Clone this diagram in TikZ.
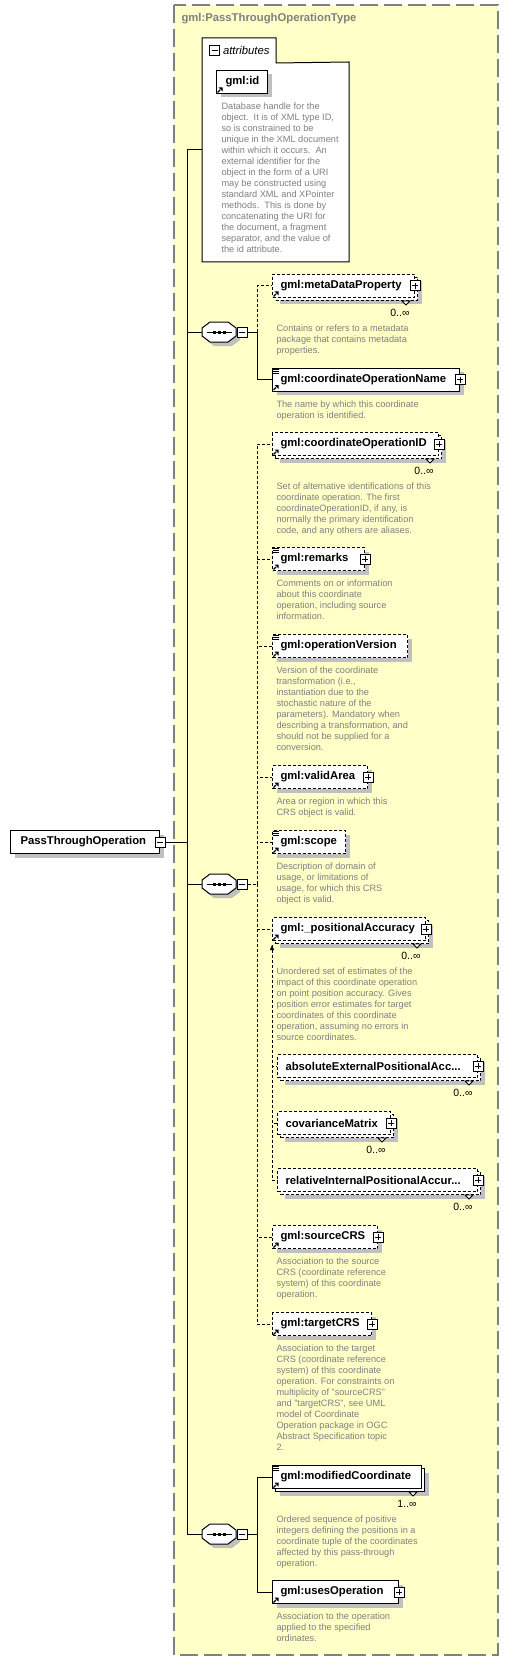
\documentclass[tikz,border=0pt]{standalone}
\usepackage{fontspec}
\setmainfont{Liberation Sans}
\usetikzlibrary{arrows.meta,positioning,shadows,calc}
\definecolor{typeyellow}{RGB}{255,255,200}
\definecolor{framegray}{RGB}{128,128,128}
\definecolor{descgray}{RGB}{128,128,128}
\definecolor{shadowgray}{RGB}{192,192,192}

\begin{document}
\begin{tikzpicture}[
  x=1pt, y=-1pt, line width=1pt,
  elem/.style={rectangle, draw=black, fill=white, minimum height=23pt, inner sep=0pt, anchor=west},
  opt/.style={dash pattern=on 3pt off 2pt},
  shade/.style={drop shadow={shadow xshift=4pt, shadow yshift=-4pt, fill=shadowgray, opacity=1}},
  ename/.style={font=\fontsize{11.3}{13}\selectfont\bfseries, inner sep=0pt, anchor=west},
  card/.style={font=\fontsize{10.5}{12}\selectfont, inner sep=0pt, anchor=east},
  desc/.style={font=\fontsize{9.2}{11}\selectfont, text=descgray, align=left, inner sep=0pt, anchor=north west},
  ibox/.style={rectangle, draw=black, fill=white, solid, line width=1pt, minimum size=10pt, inner sep=0pt},
  minusbox/.style={ibox, path picture={\draw[line width=1pt] ([xshift=2pt]path picture bounding box.west) -- ([xshift=-2pt]path picture bounding box.east);}},
  plusbox/.style={ibox, path picture={\draw[line width=1pt] ([xshift=2pt]path picture bounding box.west) -- ([xshift=-2pt]path picture bounding box.east)
      ([yshift=-2pt]path picture bounding box.north) -- ([yshift=2pt]path picture bounding box.south);}},
  wire/.style={line width=1pt},
  optwire/.style={line width=1pt, dash pattern=on 3pt off 2pt},
  pics/refmark/.style={code={\draw[line width=1.2pt, solid] (1.5,-1.5) -- (4,-4); \fill (2.5,-6.5) -- (6.5,-6.5) -- (6.5,-2.5) -- cycle;}},
  pics/simplemark/.style={code={\foreach \k in {1.5,3.5,5.5} \draw[line width=0.8pt, solid] (0.5,\k) -- (6.5,\k);}},
  pics/manymark/.style={code={\draw[fill=white, solid, line width=0.8pt] (-4,0) -- (4,0) -- (0,4) -- cycle;}},
  pics/seqicon/.style={code={
    \draw[fill=white, solid, shade] (-9,-10) -- (9,-10) -- (17,-4) -- (17,4) -- (9,10) -- (-9,10) -- (-17,4) -- (-17,-4) -- cycle;
    \node[inner sep=0pt, minimum width=34pt, minimum height=20pt] (-c) {};
    \draw (-12,0) -- (13,0);
    \foreach \d in {-5,0,5} \fill (\d-1.5,-1.5) rectangle (\d+1.5,1.5);
  }}
]
\useasboundingbox (0,0) rectangle (509,1661);

% complex type frame
\draw[framegray, line width=1.5pt, dash pattern=on 18pt off 6pt, fill=typeyellow] (174,5) rectangle (498,1655);
\node[ename, text=framegray] (ttl) at (181,19) {gml:PassThroughOperationType};

% attributes
\node[inner sep=0pt, minimum width=73pt, minimum height=24pt, anchor=north west] (atab) at (202,38) {};
\node[inner sep=0pt, minimum width=146pt, minimum height=199pt, anchor=north west] (abody) at (202,62) {};
\draw[fill=white] (atab.north west) -- (atab.north east) -- (atab.south east) -- (abody.north east) -- (abody.south east) -- (abody.south west) -- cycle;
\node[minusbox] (atabm) at (214.5,50.5) {};
\node[ename, font=\fontsize{11.3}{13}\selectfont\itshape, right=2.5pt of atabm.east] {attributes};
\coordinate (attrin) at (202,150);
\node[elem, shade, minimum width=51pt] (gid) at (216,82) {};
\node[ename, right=9pt of gid.west] {gml:id};
\pic at (gid.south west) {refmark};
\node[desc] at ($(gid.south west)+(5,8.5)$) {Database handle for the\\object.\ \ It is of XML type ID,\\so is constrained to be\\unique in the XML document\\within which it occurs.\ \ An\\external identifier for the\\object in the form of a URI\\may be constructed using\\standard XML and XPointer\\methods.\ \ This is done by\\concatenating the URI for\\the document, a fragment\\separator, and the value of\\the id attribute.};

% root element
\node[elem, shade, minimum width=149pt] (pto) at (10,842) {};
\node[ename, right=10pt of pto.west] {PassThroughOperation};
\node[minusbox] (ptom) at (pto.east) {};
\coordinate (trk) at (187,842);

% sequences
\pic (s1) at (219,332) {seqicon};
\node[minusbox] (s1m) at (242,332) {};
\coordinate (b1) at (257,332);
\pic (s2) at (219,884) {seqicon};
\node[minusbox] (s2m) at (242,884) {};
\coordinate (b2) at (257,884);
\pic (s3) at (219,1534) {seqicon};
\node[minusbox] (s3m) at (242,1534) {};
\coordinate (b3) at (257,1534);

% metaDataProperty
\node[elem, opt, shade, minimum width=142pt] (mdpb) at (275,289) {};
\pic at ($(mdpb.south east)+(-12,0)$) {manymark};
\node[elem, opt, minimum width=142pt] (mdp) at (272,286) {};
\node[ename, right=8pt of mdp.west] {gml:metaDataProperty};
\node[plusbox] at (mdp.east) {};
\pic at (mdp.south west) {refmark};
\node[card] at ($(mdp.south east)+(-5,14.5)$) {0..∞};
\node[desc] at ($(mdp.south west)+(4,26.5)$) {Contains or refers to a metadata\\package that contains metadata\\properties.};

% coordinateOperationName
\node[elem, shade, minimum width=187pt] (con) at (272,379.5) {};
\node[ename, right=8pt of con.west] {gml:coordinateOperationName};
\node[plusbox] at (con.east) {};
\pic at (con.south west) {refmark};
\pic at (con.north west) {simplemark};
\node[desc] at ($(con.south west)+(4,8.5)$) {The name by which this coordinate\\operation is identified.};

% coordinateOperationID
\node[elem, opt, shade, minimum width=166pt] (cidb) at (275,447) {};
\pic at ($(cidb.south east)+(-12,0)$) {manymark};
\node[elem, opt, minimum width=166pt] (cid) at (272,444) {};
\node[ename, right=8pt of cid.west] {gml:coordinateOperationID};
\node[plusbox] at (cid.east) {};
\pic at (cid.south west) {refmark};
\node[card] at ($(cid.south east)+(-5,14.5)$) {0..∞};
\node[desc] at ($(cid.south west)+(4,26.5)$) {Set of alternative identifications of this\\coordinate operation. The first\\coordinateOperationID, if any, is\\normally the primary identification\\code, and any others are aliases.};

% remarks
\node[elem, opt, shade, minimum width=92pt] (rem) at (272,559) {};
\node[ename, right=8pt of rem.west] {gml:remarks};
\node[plusbox] at (rem.east) {};
\pic at (rem.south west) {refmark};
\pic at (rem.north west) {simplemark};
\node[desc] at ($(rem.south west)+(4,8.5)$) {Comments on or information\\about this coordinate\\operation, including source\\information.};

% operationVersion
\node[elem, opt, shade, minimum width=135pt] (ver) at (272,646) {};
\node[ename, right=8pt of ver.west] {gml:operationVersion};
\pic at (ver.south west) {refmark};
\pic at (ver.north west) {simplemark};
\node[desc] at ($(ver.south west)+(4,8.5)$) {Version of the coordinate\\transformation (i.e.,\\instantiation due to the\\stochastic nature of the\\parameters). Mandatory when\\describing a transformation, and\\should not be supplied for a\\conversion.};

% validArea
\node[elem, opt, shade, minimum width=95pt] (vaa) at (272,777) {};
\node[ename, right=8pt of vaa.west] {gml:validArea};
\node[plusbox] at (vaa.east) {};
\pic at (vaa.south west) {refmark};
\node[desc] at ($(vaa.south west)+(4,8.5)$) {Area or region in which this\\CRS object is valid.};

% scope
\node[elem, opt, shade, minimum width=73pt] (sco) at (272,842) {};
\node[ename, right=8pt of sco.west] {gml:scope};
\pic at (sco.south west) {refmark};
\pic at (sco.north west) {simplemark};
\node[desc] at ($(sco.south west)+(4,8.5)$) {Description of domain of\\usage, or limitations of\\usage, for which this CRS\\object is valid.};

% _positionalAccuracy and its substitutes
\node[elem, opt, shade, minimum width=153pt] (pacb) at (275,932) {};
\pic at ($(pacb.south east)+(-12,0)$) {manymark};
\node[elem, opt, minimum width=153pt] (pac) at (272,929) {};
\node[ename, right=8pt of pac.west] {gml:\_positionalAccuracy};
\node[plusbox] at (pac.east) {};
\pic at (pac.south west) {refmark};
\node[card] at ($(pac.south east)+(-5,14.5)$) {0..∞};
\node[desc] at ($(pac.south west)+(4,26.5)$) {Unordered set of estimates of the\\impact of this coordinate operation\\on point position accuracy. Gives\\position error estimates for target\\coordinates of this coordinate\\operation, assuming no errors in\\source coordinates.};
\coordinate (sg) at ($(pac.south west)+(0,4)$);

\node[elem, opt, shade, minimum width=200pt] (absb) at (280,1069) {};
\pic at ($(absb.south east)+(-12,0)$) {manymark};
\node[elem, opt, minimum width=200pt] (abs) at (277,1066) {};
\node[ename, right=8pt of abs.west] {absoluteExternalPositionalAcc...};
\node[plusbox] at (abs.east) {};
\node[card] at ($(abs.south east)+(-5,14.5)$) {0..∞};

\node[elem, opt, shade, minimum width=113pt] (covb) at (280,1126) {};
\pic at ($(covb.south east)+(-12,0)$) {manymark};
\node[elem, opt, minimum width=113pt] (cov) at (277,1123) {};
\node[ename, right=8pt of cov.west] {covarianceMatrix};
\node[plusbox] at (cov.east) {};
\node[card] at ($(cov.south east)+(-5,14.5)$) {0..∞};

\node[elem, opt, shade, minimum width=200pt] (ripb) at (280,1183) {};
\pic at ($(ripb.south east)+(-12,0)$) {manymark};
\node[elem, opt, minimum width=200pt] (rip) at (277,1180) {};
\node[ename, right=8pt of rip.west] {relativeInternalPositionalAccur...};
\node[plusbox] at (rip.east) {};
\node[card] at ($(rip.south east)+(-5,14.5)$) {0..∞};

% sourceCRS
\node[elem, opt, shade, minimum width=105pt] (src) at (272,1237) {};
\node[ename, right=8pt of src.west] {gml:sourceCRS};
\node[plusbox] at (src.east) {};
\pic at (src.south west) {refmark};
\node[desc] at ($(src.south west)+(4,8.5)$) {Association to the source\\CRS (coordinate reference\\system) of this coordinate\\operation.};

% targetCRS
\node[elem, opt, shade, minimum width=99pt] (tgt) at (272,1324) {};
\node[ename, right=8pt of tgt.west] {gml:targetCRS};
\node[plusbox] at (tgt.east) {};
\pic at (tgt.south west) {refmark};
\node[desc] at ($(tgt.south west)+(4,8.5)$) {Association to the target\\CRS (coordinate reference\\system) of this coordinate\\operation. For constraints on\\multiplicity of "sourceCRS"\\and "targetCRS", see UML\\model of Coordinate\\Operation package in OGC\\Abstract Specification topic\\2.};

% modifiedCoordinate
\node[elem, shade, minimum width=149pt] (modb) at (275,1480) {};
\pic at ($(modb.south east)+(-12,0)$) {manymark};
\node[elem, minimum width=149pt] (mod) at (272,1477) {};
\node[ename, right=8pt of mod.west] {gml:modifiedCoordinate};
\pic at (mod.south west) {refmark};
\pic at (mod.north west) {simplemark};
\node[card] at ($(mod.south east)+(-5,14.5)$) {1..∞};
\node[desc] at ($(mod.south west)+(4,26.5)$) {Ordered sequence of positive\\integers defining the positions in a\\coordinate tuple of the coordinates\\affected by this pass-through\\operation.};

% usesOperation
\node[elem, shade, minimum width=126pt] (use) at (272,1592) {};
\node[ename, right=8pt of use.west] {gml:usesOperation};
\node[plusbox] at (use.east) {};
\pic at (use.south west) {refmark};
\node[desc] at ($(use.south west)+(4,8.5)$) {Association to the operation\\applied to the specified\\ordinates.};

% connectors
\draw[wire] (ptom.east) -- (trk);
\draw[wire] (trk) |- (attrin);
\draw[wire] (trk) |- (s1-c.west);
\draw[wire] (trk) |- (s2-c.west);
\draw[wire] (trk) |- (s3-c.west);
\draw[wire] (s1m.east) -- (b1);
\draw[optwire] (b1) |- (mdp.west);
\draw[wire] (b1) |- (con.west);
\draw[optwire] (s2m.east) -- (b2);
\foreach \e in {cid,rem,ver,vaa,sco,pac,src,tgt}
  \draw[optwire] (b2) |- (\e.west);
\draw[optwire, {Triangle[length=5pt,width=4pt]}-] (sg) |- (rip.west);
\draw[optwire] (sg) |- (abs.west);
\draw[optwire] (sg) |- (cov.west);
\draw[wire] (s3m.east) -- (b3);
\draw[wire] (b3) |- (mod.west);
\draw[wire] (b3) |- (use.west);
\end{tikzpicture}
\end{document}
